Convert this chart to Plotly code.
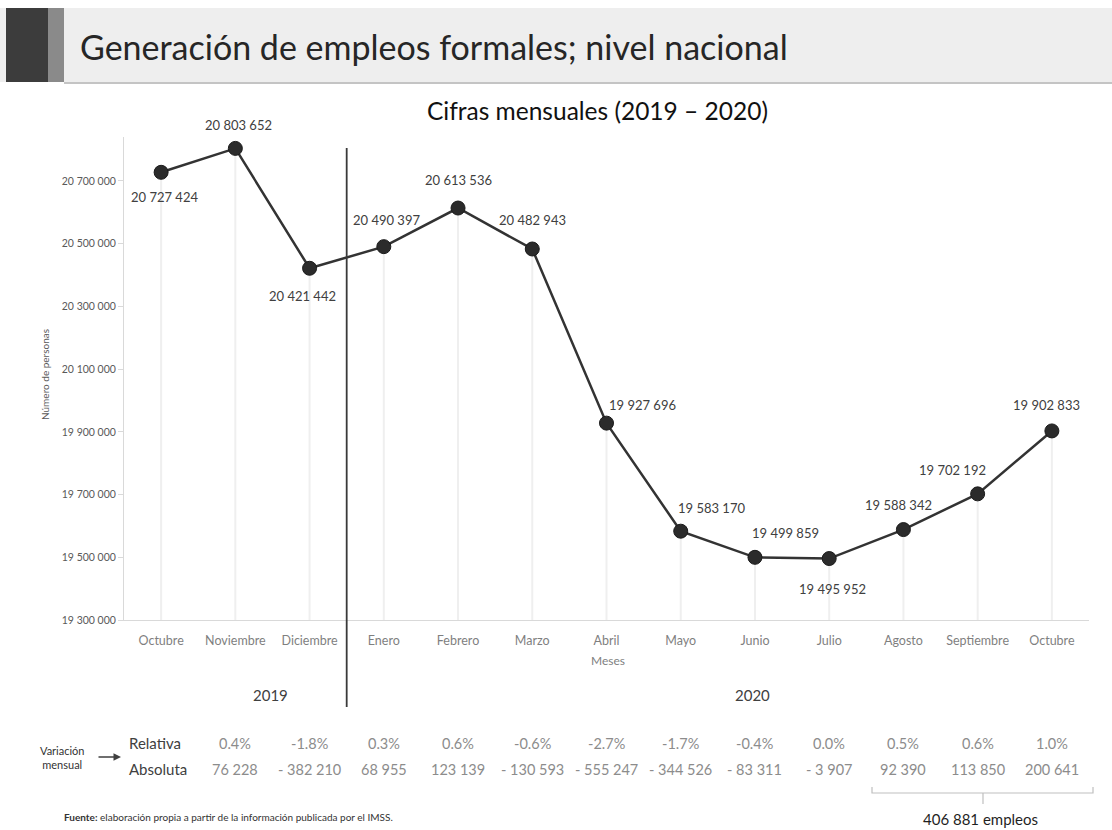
import plotly.graph_objects as go

# Empleo formal mensual (IMSS), octubre 2019 - octubre 2020
MESES = ["Octubre", "Noviembre", "Diciembre", "Enero", "Febrero", "Marzo", "Abril",
         "Mayo", "Junio", "Julio", "Agosto", "Septiembre", "Octubre"]
EMPLEOS = [20727424, 20803652, 20421442, 20490397, 20613536, 20482943, 19927696,
           19583170, 19499859, 19495952, 19588342, 19702192, 19902833]
VAR_RELATIVA = [0.4, -1.8, 0.3, 0.6, -0.6, -2.7, -1.7, -0.4, 0.0, 0.5, 0.6, 1.0]
VAR_ABSOLUTA = [76228, -382210, 68955, 123139, -130593, -555247, -344526, -83311,
                -3907, 92390, 113850, 200641]
YEARS = ["2019", "2020"]

Y_MIN, Y_MAX = 19300000, 20840000
# desplazamiento (px) de cada etiqueta respecto a su punto
LABEL_DX = [3, 3, -7, 3, 0, 0, 36, 31, 31, 3, -5, -25, -5]
LABEL_DY = [25, -23, 28, -27, -28, -29, -18, -23, -24, 30, -25, -24, -26]

FONT = "Lato"
W, H = 1112, 830
L, R, T, B = 124, 1089, 137, 620  # área de trazado en píxeles


def px(x):
    return (x - L) / (R - L)


def py(y):
    return (B - y) / (B - T)


def fmt(n):
    return f"{n:,}".replace(",", " ").replace("-", "- ")


def note(x, y, text, size, color, **kw):
    d = dict(x=px(x), y=py(y), xref="paper", yref="paper", showarrow=False,
             xanchor="center", yanchor="middle", text=text,
             font=dict(family=FONT, size=size, color=color))
    d.update(kw)
    return d


xs = list(range(len(MESES)))

fig = go.Figure()

# líneas verticales desde cada punto hasta el eje
drop_x, drop_y = [], []
for x, v in zip(xs, EMPLEOS):
    drop_x += [x, x, None]
    drop_y += [v, Y_MIN, None]
fig.add_trace(go.Scatter(x=drop_x, y=drop_y, mode="lines",
                         line=dict(color="#efefef", width=2), hoverinfo="skip"))

fig.add_trace(go.Scatter(
    x=xs, y=EMPLEOS, mode="lines+markers", cliponaxis=False,
    line=dict(color="#333333", width=2.5),
    marker=dict(size=14, color="#2b2b2b", line=dict(color="#1a1a1a", width=1)),
))

ann = []
for x, v, dx, dy in zip(xs, EMPLEOS, LABEL_DX, LABEL_DY):
    ann.append(dict(x=x, y=v, xref="x", yref="y", showarrow=False, text=fmt(v),
                    xshift=dx, yshift=-dy, xanchor="center", yanchor="middle",
                    font=dict(family=FONT, size=13, color="#404040")))

# título de la diapositiva
ann.append(note(78, 46, "Generación de empleos formales; nivel nacional", 34, "#262626",
                xanchor="left"))
ann.append(note(597, 110, "Cifras mensuales (2019 – 2020)", 24.5, "#111111"))
ann.append(note(45, 375, "Número de personas", 10, "#595959", textangle=-90))
ann.append(note(608, 660, "Meses", 12, "#7f7f7f"))
for year, xp in zip(YEARS, [270, 752]):
    ann.append(note(xp, 695, year, 15, "#404040"))

# tabla de variación mensual
ann.append(note(62, 757, "Variación<br>mensual", 11, "#333333"))
ann.append(dict(x=px(121), y=py(757), xref="paper", yref="paper", ax=-24, ay=0,
                showarrow=True, arrowhead=2, arrowsize=1, arrowwidth=1.5,
                arrowcolor="#404040", text=""))
for label, yp in [("Relativa", 743), ("Absoluta", 769)]:
    ann.append(note(127, yp, label, 15, "#404040", xanchor="left"))
for i, (rel, ab) in enumerate(zip(VAR_RELATIVA, VAR_ABSOLUTA)):
    for text, yp in [(f"{rel:.1f}%", 743), (fmt(ab), 769)]:
        ann.append(dict(x=i + 1, y=py(yp), xref="x", yref="paper", showarrow=False,
                        xanchor="center", yanchor="middle", text=text,
                        font=dict(family=FONT, size=14.5, color="#8c8c8c")))

total = sum(VAR_ABSOLUTA[-3:])
ann.append(note(980, 819, f"{total:,}".replace(",", " ") + " empleos", 15, "#1f1f1f"))
ann.append(note(62, 817,
                "<b>Fuente:</b> elaboración propia a partir de la información publicada por el IMSS.",
                10, "#333333", xanchor="left"))

shapes = [
    # banda del encabezado
    dict(type="rect", xref="paper", yref="paper", x0=px(0), x1=px(W), y0=py(8), y1=py(82),
         fillcolor="#eeeeee", line=dict(width=0), layer="below"),
    dict(type="rect", xref="paper", yref="paper", x0=px(6), x1=px(48), y0=py(8), y1=py(82),
         fillcolor="#3c3c3c", line=dict(width=0), layer="below"),
    dict(type="rect", xref="paper", yref="paper", x0=px(48), x1=px(64), y0=py(8), y1=py(82),
         fillcolor="#8a8a8a", line=dict(width=0), layer="below"),
    dict(type="line", xref="paper", yref="paper", x0=px(64), x1=px(W), y0=py(83), y1=py(83),
         line=dict(color="#c4c4c4", width=2)),
    # separador 2019 / 2020
    dict(type="line", xref="x", yref="paper", x0=2.5, x1=2.5, y0=py(148), y1=py(707),
         line=dict(color="#3a3a3a", width=1.8)),
    # llave de agosto-octubre
    dict(type="path", xref="paper", yref="paper",
         path=f"M {px(872)},{py(787)} L {px(872)},{py(793)} L {px(1093)},{py(793)} "
              f"L {px(1093)},{py(787)}",
         line=dict(color="#bfbfbf", width=1.2)),
    dict(type="line", xref="paper", yref="paper", x0=px(983), x1=px(983),
         y0=py(793), y1=py(804), line=dict(color="#bfbfbf", width=1.2)),
]

fig.update_layout(
    width=W, height=H,
    margin=dict(l=L, r=W - R, t=T, b=H - B),
    paper_bgcolor="white", plot_bgcolor="white",
    showlegend=False, separators=". ",
    font=dict(family=FONT),
    xaxis=dict(range=[-0.5, 12.5], tickvals=xs, ticktext=MESES, showgrid=False,
               zeroline=False, showline=True, linecolor="#d9d9d9", linewidth=1,
               ticks="outside", ticklen=9, tickcolor="rgba(0,0,0,0)",
               tickfont=dict(family=FONT, size=12.5, color="#7f7f7f")),
    yaxis=dict(range=[Y_MIN, Y_MAX], tick0=Y_MIN, dtick=200000, tickformat=",d",
               showgrid=False, zeroline=False, showline=True, linecolor="#d9d9d9",
               ticks="outside", ticklen=5, tickcolor="#d9d9d9",
               tickfont=dict(family=FONT, size=10.5, color="#595959")),
    annotations=ann, shapes=shapes,
)

fig.write_html("out.html", config={"displayModeBar": False},
               post_script="document.body.style.margin='0';")
